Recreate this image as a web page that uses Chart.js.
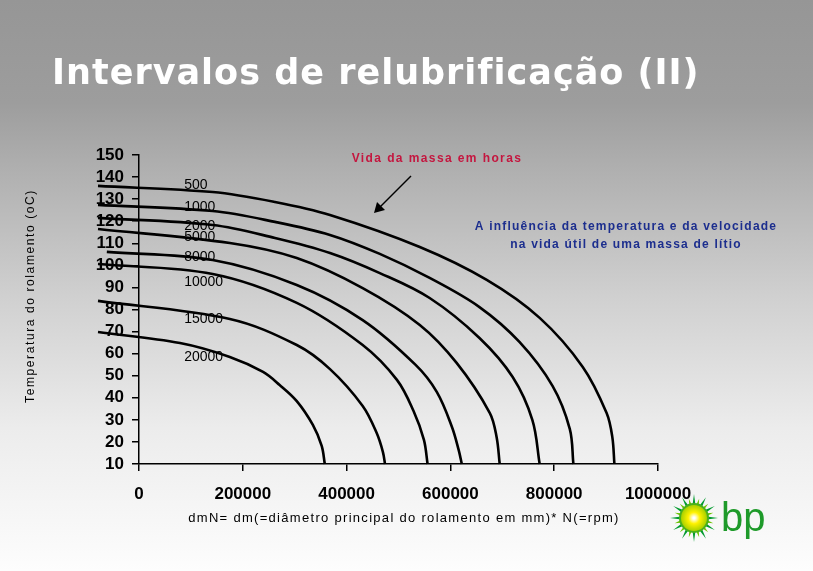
<!DOCTYPE html>
<html>
<head>
<meta charset="utf-8">
<script src="https://cdn.jsdelivr.net/npm/chart.js@4.4.1/dist/chart.umd.min.js"></script>
<style>
  html, body { margin: 0; padding: 0; }
  body {
    width: 813px; height: 571px; overflow: hidden;
    background: linear-gradient(to bottom, #969696 0%, #9d9d9d 18%, #b0b0b0 30%, #d0d0d0 52%, #ececec 75%, #fdfdfd 100%);
  }
  canvas { display: block; }
</style>
</head>
<body>
<canvas id="chart" width="813" height="571"></canvas>
<script>
// vida da massa em horas (one curve each)
const hours = ['500', '1000', '2000', '5000', '8000', '10000', '15000', '20000'];

// dmN values and temperatures
const dmN500 = [-79000, 142000, 262000, 368000, 541000, 670000, 772000, 855000, 901000, 912000, 916000];
const temp500 = [136, 133.2, 128.7, 122.8, 108.3, 93.4, 76.2, 54, 33.1, 22.2, 10];

const dmN1000 = [-79000, 142000, 262000, 368000, 464000, 560000, 656000, 733000, 797000, 830000, 837000];
const temp1000 = [127.4, 124.6, 119.7, 113.8, 105.2, 94.3, 81.1, 65.3, 45.3, 25.9, 10];

const dmN2000 = [-79000, 142000, 262000, 368000, 464000, 560000, 656000, 720000, 758000, 772000];
const temp2000 = [121.5, 118.3, 112.4, 105.6, 96.5, 85.2, 67.1, 49.4, 29.9, 10];

const dmN5000 = [-79000, 175000, 304000, 431000, 541000, 612000, 676000, 689000, 695000];
const temp5000 = [116.5, 110.1, 103.3, 89.7, 73, 55.8, 33.1, 22.2, 10];

const dmN8000 = [-62000, 142000, 304000, 431000, 533000, 574000, 603000, 616000, 622000];
const temp8000 = [106.1, 102.4, 91.1, 75.2, 54.9, 42.6, 26.8, 16.3, 10];

const dmN10000 = [-79000, 142000, 304000, 431000, 497000, 529000, 549000, 556000];
const temp10000 = [100.6, 96.1, 83, 63.9, 48.1, 34, 20.9, 10];

const dmN15000 = [-79000, 175000, 304000, 368000, 431000, 458000, 470000, 474000];
const temp15000 = [83.9, 75.7, 63.9, 53, 36.3, 24, 15.4, 10];

const dmN20000 = [-79000, 79000, 175000, 239000, 271000, 304000, 335000, 352000, 358000];
const temp20000 = [69.8, 64.8, 58.5, 51.7, 45.8, 38.5, 27.7, 18.2, 10];

// where the hour labels sit
const labelDmN = 87000;
const labelTemp = [136.4, 126.4, 117.8, 112.9, 103.8, 92.5, 75.7, 58.5];

const xTickLabels = ['0', '200000', '400000', '600000', '800000', '1000000'];
const yTickLabels = ['10', '20', '30', '40', '50', '60', '70', '80', '90', '100', '110', '120', '130', '140', '150'];

const curvesX = [dmN500, dmN1000, dmN2000, dmN5000, dmN8000, dmN10000, dmN15000, dmN20000];
const curvesY = [temp500, temp1000, temp2000, temp5000, temp8000, temp10000, temp15000, temp20000];

const FONT = '"Liberation Sans", Arial, sans-serif';

const decor = {
    id: 'decor',
    afterDraw(chart) {
        const { ctx } = chart;
        const x = chart.scales.x, y = chart.scales.y;
        ctx.save();

        // titulo
        ctx.fillStyle = '#fff';
        ctx.font = 'bold 35px "DejaVu Sans", sans-serif';
        ctx.letterSpacing = '1px';
        ctx.textAlign = 'left';
        ctx.textBaseline = 'alphabetic';
        ctx.fillText('Intervalos de relubrificação (II)', 52, 84);
        ctx.letterSpacing = '0px';

        // etiquetas das curvas
        ctx.fillStyle = '#000';
        ctx.font = '14px ' + FONT;
        ctx.textBaseline = 'middle';
        hours.forEach((h, i) => {
            ctx.fillText(h, x.getPixelForValue(labelDmN), y.getPixelForValue(labelTemp[i]));
        });

        // eixo y titulo
        ctx.save();
        ctx.translate(31, 296);
        ctx.rotate(-Math.PI / 2);
        ctx.textAlign = 'center';
        ctx.font = '12px ' + FONT;
        ctx.letterSpacing = '1.6px';
        ctx.fillText('Temperatura do rolamento (oC)', 0, 0);
        ctx.restore();

        // eixo x titulo
        ctx.textAlign = 'center';
        ctx.font = '13px ' + FONT;
        ctx.letterSpacing = '1.3px';
        ctx.fillText('dmN= dm(=diâmetro principal do rolamento em mm)* N(=rpm)', 404, 518);

        // anotacoes
        ctx.fillStyle = '#c4163f';
        ctx.font = 'bold 12px ' + FONT;
        ctx.letterSpacing = '1.4px';
        ctx.fillText('Vida da massa em horas', 437, 159);

        ctx.fillStyle = '#1c2e8e';
        ctx.letterSpacing = '1.2px';
        ctx.fillText('A influência da temperatura e da velocidade', 626, 227);
        ctx.fillText('na vida útil de uma massa de lítio', 626, 245);
        ctx.letterSpacing = '0px';

        // seta
        ctx.strokeStyle = '#000';
        ctx.lineWidth = 1.5;
        ctx.beginPath();
        ctx.moveTo(411, 176);
        ctx.lineTo(378, 209);
        ctx.stroke();
        ctx.fillStyle = '#000';
        ctx.beginPath();
        ctx.moveTo(374, 213);
        ctx.lineTo(377, 202);
        ctx.lineTo(385, 210);
        ctx.closePath();
        ctx.fill();

        // logo bp
        const cx = 694, cy = 518;
        for (let k = 0; k < 24; k++) {
            const a = k * Math.PI * 2 / 24;
            const a1 = a - 0.16, a2 = a + 0.16;
            const r = k % 2 ? 20 : 24;
            ctx.fillStyle = k % 2 ? '#6cc400' : '#009a2e';
            ctx.beginPath();
            ctx.moveTo(cx + Math.cos(a1) * 11, cy + Math.sin(a1) * 11);
            ctx.lineTo(cx + Math.cos(a) * r, cy + Math.sin(a) * r);
            ctx.lineTo(cx + Math.cos(a2) * 11, cy + Math.sin(a2) * 11);
            ctx.closePath();
            ctx.fill();
        }
        ctx.fillStyle = '#49b01c';
        ctx.beginPath(); ctx.arc(cx, cy, 15, 0, Math.PI * 2); ctx.fill();
        const g = ctx.createRadialGradient(cx, cy, 1, cx, cy, 13);
        g.addColorStop(0, '#ffffff');
        g.addColorStop(0.4, '#fff200');
        g.addColorStop(1, '#a8d000');
        ctx.fillStyle = g;
        ctx.beginPath(); ctx.arc(cx, cy, 13, 0, Math.PI * 2); ctx.fill();

        ctx.fillStyle = '#1e9a2a';
        ctx.font = '40px ' + FONT;
        ctx.textAlign = 'left';
        ctx.textBaseline = 'alphabetic';
        ctx.fillText('bp', 721, 531);

        ctx.restore();
    }
};

const datasets = hours.map((h, i) => ({
    label: h,
    data: curvesX[i].map((v, j) => ({ x: v, y: curvesY[i][j] })),
    borderColor: '#000',
    borderWidth: 2.6,
    pointRadius: 0,
    fill: false,
    tension: 0.35,
    capBezierPoints: false,
    clip: false
}));

const ctx = document.getElementById('chart').getContext('2d');
new Chart(ctx, {
    type: 'line',
    data: { datasets: datasets },
    options: {
        responsive: false,
        animation: false,
        events: [],
        layout: { padding: { left: 60, right: 155, top: 155, bottom: 47 } },
        plugins: { legend: { display: false }, tooltip: { enabled: false } },
        scales: {
            x: {
                type: 'linear',
                min: 0, max: 1000000,
                afterFit: (s) => { s.height = 60; },
                ticks: {
                    stepSize: 200000,
                    maxRotation: 0,
                    autoSkip: false,
                    color: '#000',
                    padding: 13,
                    font: { family: FONT, size: 17, weight: 'bold' },
                    callback: (v, i) => xTickLabels[i]
                },
                grid: { drawOnChartArea: false, tickLength: 7, color: '#000', lineWidth: 1.5 },
                border: { color: '#000', width: 1.5 }
            },
            y: {
                min: 10, max: 150,
                afterFit: (s) => { s.width = 79; },
                ticks: {
                    stepSize: 10,
                    autoSkip: false,
                    color: '#000',
                    padding: 8,
                    font: { family: FONT, size: 17, weight: 'bold' },
                    callback: (v, i) => yTickLabels[i]
                },
                grid: { drawOnChartArea: false, tickLength: 7, color: '#000', lineWidth: 1.5 },
                border: { color: '#000', width: 1.5 }
            }
        }
    },
    plugins: [decor]
});
</script>
</body>
</html>
